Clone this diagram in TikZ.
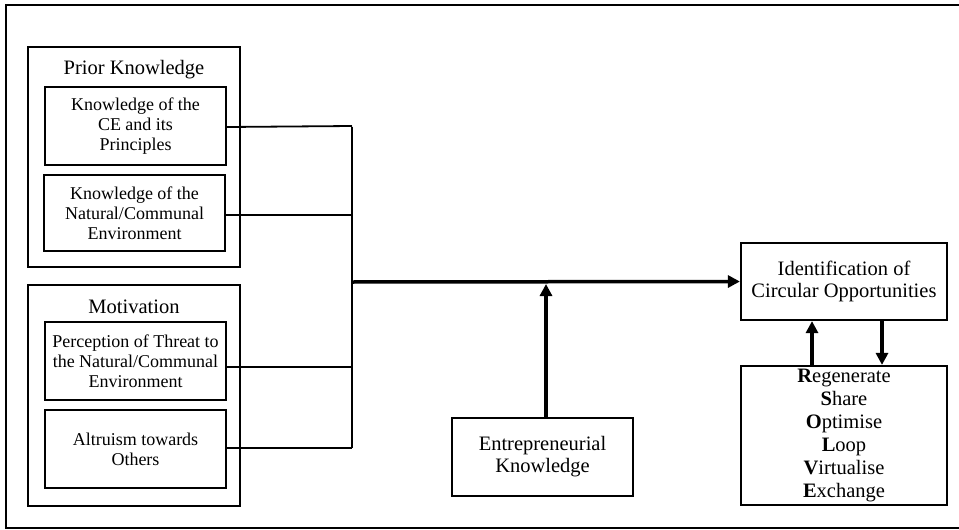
\documentclass[tikz,border=0pt]{standalone}
\usepackage{fontspec}
\setmainfont{Liberation Serif}
\usetikzlibrary{arrows.meta}
\begin{document}
\begin{tikzpicture}[x=1pt,y=-1pt,
  outerbox/.style={draw,line width=2.2pt,minimum width=212pt,inner sep=0pt},
  innerbox/.style={draw,line width=2.2pt,minimum width=181pt,minimum height=78pt,inner sep=0pt,align=center,font=\fontsize{18}{20}\selectfont},
  titletext/.style={inner sep=0pt,font=\fontsize{20.5}{22}\selectfont},
  mainbox/.style={draw,line width=2.2pt,inner sep=0pt,align=center,font=\fontsize{20.5}{22}\selectfont},
  thinline/.style={line width=1.8pt},
  busline/.style={line width=1.2pt},
  thickarrow/.style={line width=3.5pt,-{Triangle[length=12pt,width=12pt]}},
]
\useasboundingbox (0,0) rectangle (959,530);
% frame
\draw[line width=2.4pt] (959,5) -- (6,5) -- (6,528) -- (959,528);

% Prior knowledge
\node[outerbox,minimum height=220pt] (pk) at (134,157) {};
\node[titletext] (pkt) at (134,70) {Prior Knowledge};
\node[innerbox] (b1) at (135.5,126) {Knowledge of the\\CE and its\\Principles};
\node[innerbox,minimum height=76pt] (b2) at (134.5,213) {Knowledge of the\\Natural/Communal\\Environment};

% Motivation
\node[outerbox,minimum height=221pt] (mo) at (134,395.5) {};
\node[titletext] (mot) at (134,307) {Motivation};
\node[innerbox] (b3) at (135.5,361) {Perception of Threat to\\the Natural/Communal\\Environment};
\node[innerbox] (b4) at (135.5,449) {Altruism towards\\Others};

% bus
\coordinate (bustop) at (352,127);
\coordinate (busmid) at (352,282);
\coordinate (busbot) at (352,448);
\draw[thinline] ([yshift=-1pt]b1.east) -- (b1.east -| bustop);
\draw[thinline] ([yshift=-2pt]b2.east) -- ([yshift=-2pt]b2.east -| bustop);
\draw[thinline] ([yshift=-6pt]b3.east) -- ([yshift=-6pt]b3.east -| bustop);
\draw[thinline] ([yshift=1pt]b4.east) -- ([yshift=1pt]b4.east -| bustop);
\draw[busline] (bustop) -- (busbot);

% main boxes
\node[mainbox,minimum width=206pt,minimum height=77pt] (id) at (844,281.5) {Identification of\\Circular Opportunities};
\node[mainbox,minimum width=181pt,minimum height=78pt] (en) at (542.5,457) {Entrepreneurial\\Knowledge};
\node[mainbox,minimum width=206pt,minimum height=139pt,font=\fontsize{20.5}{23}\selectfont] (rs) at (844,435.5)
  {\textbf{R}egenerate\\\textbf{S}hare\\\textbf{O}ptimise\\\textbf{L}oop\\\textbf{V}irtualise\\\textbf{E}xchange};

\coordinate (enjoin) at (546,282);
\draw[thickarrow] (busmid) -- (id.west);
\draw[thickarrow] (en.north -| enjoin) -- ([yshift=-2pt]enjoin);
\draw[thickarrow] (rs.north -| 812,0) -- (id.south -| 812,0);
\draw[thickarrow] (id.south -| 882,0) -- (rs.north -| 882,0);
\end{tikzpicture}
\end{document}
